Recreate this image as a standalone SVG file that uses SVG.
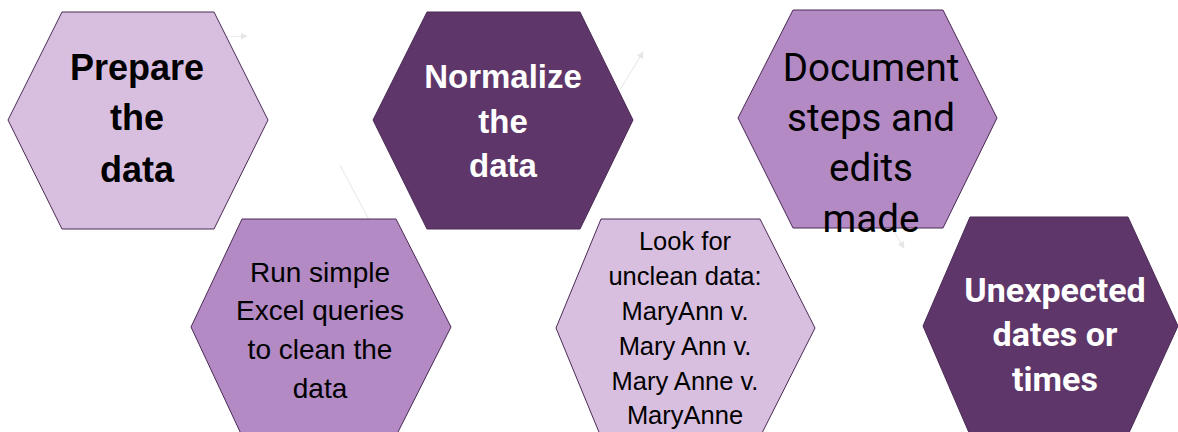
<svg xmlns="http://www.w3.org/2000/svg" width="1178" height="432" viewBox="0 0 1178 432">
<defs>
<style>
.hex{stroke:#4A2A55;stroke-width:1}
.light{fill:#D8BFE0}
.mid{fill:#B38AC4}
.dark{fill:#5E3669}
.conn{stroke:#EBEBEB;stroke-width:1.2;fill:none}
text{text-anchor:middle}
.b{font-family:"Liberation Sans",Arial,sans-serif;font-weight:bold}
.r{font-family:"Liberation Sans",Arial,sans-serif}
.rb{font-family:Roboto,"Liberation Sans",sans-serif;font-weight:bold}
.rr{font-family:Roboto,"Liberation Sans",sans-serif}
</style>
<marker id="ah" viewBox="0 0 10 10" refX="9" refY="5" markerWidth="7" markerHeight="7" orient="auto" markerUnits="userSpaceOnUse">
<path d="M0,0 L10,5 L0,10 z" fill="#E6E6E6"/>
</marker>
</defs>
<rect width="1178" height="432" fill="#FFFFFF"/>
<g id="connectors">
<line class="conn" x1="222" y1="37" x2="247" y2="36" marker-end="url(#ah)"/>
<line class="conn" x1="340" y1="165" x2="378" y2="237" marker-end="url(#ah)"/>
<line class="conn" x1="620" y1="90" x2="643" y2="52" marker-end="url(#ah)"/>
<line class="conn" x1="893" y1="230" x2="904" y2="248" marker-end="url(#ah)"/>
</g>
<g id="node-prepare">
<polygon class="hex light" points="62,12 214,12 268,120 214,229 62,229 8,120"/>
<text class="b" font-size="36" fill="#000"><tspan x="137" y="80">Prepare</tspan><tspan x="137" y="130">the</tspan><tspan x="137" y="182">data</tspan></text>
</g>
<g id="node-normalize">
<polygon class="hex dark" points="427,12 580,12 633,120 580,229 427,229 373,120"/>
<text class="b" font-size="33" fill="#FFFFFF"><tspan x="503" y="88">Normalize</tspan><tspan x="503" y="133">the</tspan><tspan x="503" y="177">data</tspan></text>
</g>
<g id="node-document">
<polygon class="hex mid" points="793,10 943,10 997,118 943,228 793,228 738,118"/>
<text class="rr" font-size="38.5" fill="#000"><tspan x="871" y="81">Document</tspan><tspan x="871" y="131">steps and</tspan><tspan x="871" y="181">edits</tspan><tspan x="871" y="232">made</tspan></text>
</g>
<g id="node-run">
<polygon class="hex mid" points="242,219 396,219 451,327 396,436 242,436 191,327"/>
<text class="r" font-size="28" fill="#000"><tspan x="320" y="282">Run simple</tspan><tspan x="320" y="320">Excel queries</tspan><tspan x="320" y="359">to clean the</tspan><tspan x="320" y="398">data</tspan></text>
</g>
<g id="node-look">
<polygon class="hex light" points="601,219 760,219 815,328 760,437 601,437 556,328"/>
<text class="r" font-size="25.5" fill="#000"><tspan x="685" y="250">Look for</tspan><tspan x="685" y="285">unclean data:</tspan><tspan x="685" y="320">MaryAnn v.</tspan><tspan x="685" y="355">Mary Ann v.</tspan><tspan x="685" y="390">Mary Anne v.</tspan><tspan x="685" y="424">MaryAnne</tspan></text>
</g>
<g id="node-unexpected">
<polygon class="hex dark" points="970,217 1128,217 1178,326 1128,435 970,435 923,326"/>
<text class="rb" font-size="34" fill="#FFFFFF"><tspan x="1055" y="302">Unexpected</tspan><tspan x="1055" y="346">dates or</tspan><tspan x="1055" y="391">times</tspan></text>
</g>
</svg>
